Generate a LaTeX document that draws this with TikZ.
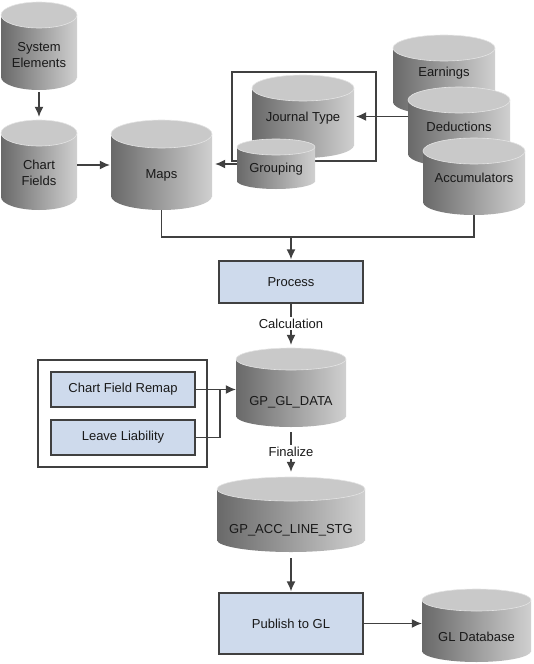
\documentclass[tikz,border=0pt]{standalone}
\usepackage{fontspec}
\setmainfont{Liberation Sans}
\usetikzlibrary{arrows.meta}
\definecolor{cyldark}{RGB}{105,105,105}
\definecolor{cyllight}{RGB}{208,208,208}
\definecolor{cyltop}{RGB}{201,201,201}
\definecolor{cylrim}{RGB}{228,228,228}
\definecolor{boxblue}{RGB}{206,218,236}
\definecolor{linegray}{RGB}{64,64,64}

\begin{document}
\begin{tikzpicture}[x=1pt, y=-1pt, font=\fontsize{13}{16}\selectfont,
    conn/.style={draw=linegray, line width=1.3pt, -{Latex[length=10pt,width=9pt]}},
    wire/.style={draw=linegray, line width=1.3pt},
    procbox/.style={draw=linegray, line width=1.3pt, fill=boxblue,
      inner sep=0pt, text=black!90},
    dblabel/.style={align=center, text=black!90, inner sep=0pt},
    steplabel/.style={fill=white, inner sep=2pt, text=black!90}]
  \useasboundingbox (0, 0) rectangle (534, 664);
  % frame round journal type and grouping
  \draw[wire] (232, 72) rectangle (376, 161);
  % name/left/right/top/bottom/ry/text y/text
  \foreach \n/\xa/\xb/\ya/\yb/\r/\yt/\txt in {
      sysel/1/77/2/90/13/55/{System\\Elements},
      chartf/1/77/120/210/13/173/{Chart\\Fields},
      maps/111/212/120/210/14/175/{Maps},
      jtype/252/354/75/158/13/118/{Journal Type},
      grouping/237/315/139/189/8/169/{Grouping},
      earn/393/495/35/115/13/73/{Earnings},
      deduct/408/510/87/167/13/127/{Deductions},
      accum/423/525/138/215/13/178/{Accumulators},
      gldata/236/346/348/427/11/402/{GP\_GL\_DATA},
      accline/217/365/477/552/12/530/{GP\_ACC\_LINE\_STG},
      gldb/422/531/589/662/11/637/{GL Database}} {
    \pgfmathsetmacro\cx{(\xa + \xb) / 2}
    \pgfmathsetmacro\rx{(\xb - \xa) / 2}
    \pgfmathsetmacro\yc{\ya + \r}
    \pgfmathsetmacro\yd{\yb - \r}
    \shade[left color=cyldark, right color=cyllight]
      (\cx, \yd) ellipse [x radius=\rx, y radius=\r];
    \shade[left color=cyldark, right color=cyllight]
      (\xa, \yc) rectangle (\xb, \yd);
    \draw[fill=cyltop, draw=cylrim, line width=0.6pt]
      (\cx, \yc) ellipse [x radius=\rx, y radius=\r];
    \node[minimum width={(\xb - \xa) * 1pt}, minimum height={(\yb - \ya) * 1pt},
      inner sep=0pt] (\n) at (\cx, {(\ya + \yb) / 2}) {};
    \node[dblabel] (\n-txt) at (\cx, \yt) {\txt};
  }
  \node[procbox, minimum width=144pt, minimum height=42pt] (process) at (291, 282) {Process};
  \node[procbox, minimum width=144pt, minimum height=35pt] (cfremap) at (123, 389.5) {Chart Field Remap};
  \node[procbox, minimum width=144pt, minimum height=35pt] (leave) at (123, 437.5) {Leave Liability};
  \node[procbox, minimum width=144pt, minimum height=61pt] (publish) at (291, 623.5) {Publish to GL};
  % frame round the remap steps
  \draw[wire] (38, 360) rectangle (207, 467);
  \coordinate (join) at (291, 237);
  \coordinate (merge) at (220, 389.5);
  \draw[conn, shorten <=2pt, shorten >=3pt] (sysel) -- (chartf);
  \draw[conn, shorten >=1pt] (chartf) -- (maps);
  \draw[conn, shorten >=3pt] (grouping.west) -- (maps.east |- grouping.west);
  \draw[conn, shorten >=2pt] (deduct.west |- jtype.east) -- (jtype.east);
  \draw[wire] (maps.south) |- (join) -| (accum.south);
  \draw[conn, shorten >=1pt] (join) -- (process.north);
  \draw[conn, shorten >=3pt] (process) -- node[steplabel, pos=0.45] (calc) {Calculation} (gldata);
  \draw[conn] (cfremap.east) -- (gldata.west |- cfremap.east);
  \draw[wire] (leave.east) -| (merge);
  \draw[conn, shorten <=5pt, shorten >=5pt] (gldata) -- node[steplabel] (final) {Finalize} (accline);
  \draw[conn, shorten <=6pt, shorten >=1pt] (accline) -- (publish);
  \draw[conn] (publish.east) -- (gldb.west |- publish.east);
\end{tikzpicture}
\end{document}
